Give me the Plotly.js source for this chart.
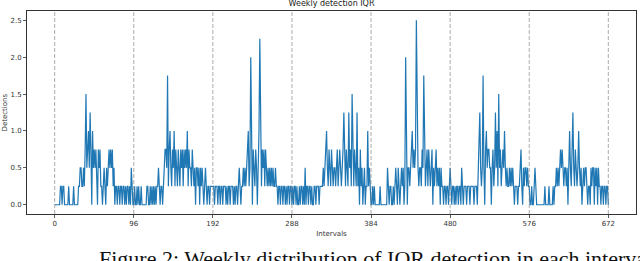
<!DOCTYPE html>
<html>
<head>
<meta charset="utf-8">
<script src="https://cdn.plot.ly/plotly-3.0.1.min.js"></script>
<style>
html,body{margin:0;padding:0;background:#fff;}
#chart{width:640px;height:261px;}
</style>
</head>
<body>
<div id="chart"></div>
<script>
// Weekly detection IQR values, one array per day (96 intervals each)
const day0 = [0,0,0,0,0,0,0,0.25,0.25,0,0.25,0.25,
  0,0,0,0,0,0.25,0,0,0,0,0,0.25,
  0,0,0,0,0,0.25,0.25,0.5,0.5,0.25,0.25,0.5,
  0.25,0.75,1.5,0.5,0.75,1,0.5,1.25,0.75,0,1,0.5,
  0.75,0.5,0.75,0.25,0,0.75,0.5,0.75,0.25,0.25,0,0.25,
  0.5,0.25,0,0.5,0.25,0.5,0.75,0.5,0.75,0.5,0.75,0.25,
  0.5,0,0.25,0.25,0,0.25,0.25,0,0.25,0.25,0,0.25,
  0.25,0,0.25,0,0.25,0.25,0,0.25,0,0.5,0.25,0];
const day1 = [0,0.25,0,0,0.25,0,0.25,0,0,0.25,0,0,
  0,0,0,0,0.25,0.25,0,0,0.25,0,0.25,0,
  0.25,0,0.25,0,0.25,0.25,0.5,0.25,0,0.25,0.25,0,
  0.25,0.5,0.75,0.75,0.5,1.75,0.25,0.75,1,0.5,0.25,0.75,
  0.5,1,0.25,0.75,0.5,0.25,0.75,0.5,0.25,0.75,0.5,0.75,
  0.25,0.75,0.5,0.75,0.5,1,0.25,0.75,0.5,0.5,0.25,0.75,
  0.5,0.25,0.5,0,0.5,0.5,0.25,0.5,0,0.5,0.25,0.5,
  0.25,0,0.25,0.5,0.25,0,0.25,0.25,0,0.25,0.25,0.25];
const day2 = [0.25,0.25,0,0.25,0.25,0.25,0,0.25,0.25,0,0.25,0.25,
  0,0.25,0.25,0.25,0,0.25,0,0.25,0.25,0,0.25,0.25,
  0.25,0,0.25,0,0.25,0.25,0,0.25,0.5,0.25,0,0.25,
  0.25,0.5,0.25,0.5,0.25,0.5,0.75,1,0.25,0.5,2,0.5,
  0,0.75,0.5,0.25,0.75,0.5,0,0.5,1,2.25,0.75,0.25,
  0.75,0.5,0.75,0.25,0.75,0.5,0.25,0.5,0.25,0.5,0.25,0.5,
  0.25,0.5,0.25,0.25,0.5,0.25,0.25,0,0.25,0.25,0,0.25,
  0.25,0,0.25,0.25,0,0.25,0,0.25,0.25,0,0.25,0.25];
const day3 = [0,0.25,0,0.25,0.25,0,0.25,0,0,0.25,0,0.25,
  0.25,0,0.25,0,0.5,0,0.25,0.25,0,0.25,0.25,0,
  0.25,0,0,0.25,0.25,0,0.25,0.25,0.25,0,0.25,0.25,
  0.25,0.25,0.5,0.25,0.5,0.75,1,0.5,0.25,0.75,0.5,0.25,
  0.75,0.5,0.25,0.5,0.5,0.25,0.5,0.75,0.25,0.5,0.75,0.5,
  0.25,0.5,0.75,1.25,0.5,0.25,0.75,0.5,0.25,1.25,0.5,0.75,
  0.25,1.5,0.5,0.25,0.75,0.5,0.25,1.25,0.25,0.5,0,0.75,
  0.25,0.5,0,0.25,0.5,0,0.25,0.25,1,0.25,0.5,0.25];
const day4 = [0,0,0.25,0,0.25,0,0,0,0,0,0,0.25,
  0,0,0,0,0,0,0,0,0.5,0.25,0,0.25,
  0.25,0,0,0.25,0,0.25,0.5,0.25,0,0.5,0.25,0,
  0.25,0.5,0.25,0.5,0,0.25,2,0.5,0,0.5,0.5,0.25,
  0.5,0.75,1,0.5,0.75,0.5,0.75,2.5,0.75,0.5,0.25,0.5,
  0.5,0.25,0.75,0.5,1.75,0.75,0.25,0.5,0.75,0.25,0.75,0.5,
  0.25,0.5,0.75,0,0.5,0.25,0.5,0.75,0.25,0.5,0.25,0.5,
  0,0.5,0.25,0.25,0,0.25,0.25,0,0.25,0.25,0,0.25];
const day5 = [0.5,0.25,0,0.25,0.25,0,0.25,0,0.25,0.25,0,0.25,
  0.25,0,0.5,0.25,0,0.25,0.25,0.25,0,0.25,0.25,0.25,
  0,0.25,0.25,0.25,0.25,0,0.25,0.25,0.25,0,0.5,1,
  1.25,0.5,0.25,0.5,1.75,0.5,0,0.75,1,0.5,0.75,0.75,
  0.5,0.5,0,0.5,0.75,0.25,0.5,1.25,0.5,1,0.25,1.5,
  0.5,0.75,0.25,0.5,0.75,0.5,1,0.5,0.25,0.5,0.25,0.25,
  0.5,0.25,0.5,0.25,0.5,0.25,0,0.25,0.25,0.25,0,0.25,
  0.25,0.5,0.75,0.25,0,0.5,0.25,0.5,0.5,0.25,0.5,0.25];
const day6 = [0.25,0,0,0.25,0,0,0.25,0.5,0.25,0,0,0,
  0,0,0,0,0,0,0,0.25,0,0,0,0,
  0.25,0,0,0,0,0.25,0,0.25,0.25,0.5,0.25,0.5,
  0.25,0.5,0.75,0.5,0.75,0.5,0.25,0.5,0.5,0.25,0.5,0,
  0.5,1,0.5,0.25,0.75,1.25,0.5,0.25,0.75,0.5,0.25,0.5,
  1,0.5,0.25,0.5,0,0.25,0.5,0.25,0.5,0.5,0.25,0,
  0.25,0.25,0,0.5,0.25,0.5,0.5,0,0.5,0.25,0.5,0,
  0.5,0.25,0.25,0,0.25,0.25,0,0.25,0.25,0,0.25,0.25];
const lastInterval = [0];

const tickVals = [0, 96, 192, 288, 384, 480, 576, 672];
const tickText = ['0', '96', '192', '288', '384', '480', '576', '672'];
const yTickVals = [0, 0.5, 1.0, 1.5, 2.0, 2.5];
const yTickText = ['0.0', '0.5', '1.0', '1.5', '2.0', '2.5'];

const detections = [].concat(day0, day1, day2, day3, day4, day5, day6, lastInterval);

const FONT = 'DejaVu Sans, Verdana, sans-serif';

const trace = {
  type: 'scatter',
  mode: 'lines',
  y: detections,
  x0: 0,
  dx: 1,
  line: {color: '#1f77b4', width: 1.2},
  hoverinfo: 'skip'
};

const shapes = tickVals.map(v => ({
  type: 'line', xref: 'x', yref: 'paper',
  x0: v, x1: v, y0: 0, y1: 1,
  line: {color: 'rgba(128,128,128,0.65)', width: 1, dash: '4px,2px'},
  layer: 'above'
}));

const axisCommon = {
  showgrid: false, zeroline: false,
  showline: true, mirror: true, linecolor: '#333', linewidth: 1,
  ticks: 'outside', ticklen: 3, tickwidth: 0.8, tickcolor: '#333',
  tickfont: {family: FONT, size: 7, color: '#333'},
  automargin: false
};

const layout = {
  width: 640, height: 261,
  margin: {l: 27, r: 4, t: 11, b: 47},
  paper_bgcolor: '#fff', plot_bgcolor: '#fff',
  showlegend: false,
  title: {
    text: 'Weekly detection IQR',
    font: {family: FONT, size: 8, color: '#222'},
    x: 0.5, xref: 'paper', xanchor: 'center',
    y: 1, yref: 'container', yanchor: 'top', pad: {t: 0}
  },
  xaxis: Object.assign({}, axisCommon, {
    range: [-33.6, 705.6],
    tickmode: 'array', tickvals: tickVals, ticktext: tickText,
    title: {text: 'Intervals', font: {family: FONT, size: 7, color: '#333'}, standoff: 3}
  }),
  yaxis: Object.assign({}, axisCommon, {
    range: [-0.125, 2.625],
    tickmode: 'array', tickvals: yTickVals, ticktext: yTickText,
    title: {text: ''}
  }),
  shapes: shapes,
  annotations: [
    {
      text: 'Detections', textangle: -90,
      xref: 'paper', yref: 'paper', x: 0, y: 0.5,
      xanchor: 'center', yanchor: 'middle', xshift: -23,
      showarrow: false,
      font: {family: FONT, size: 7, color: '#333'}
    },
    {
      text: 'Figure 2: Weekly distribution of IQR detection in each interval',
      xref: 'paper', yref: 'paper', x: 0, y: 0,
      xanchor: 'left', yanchor: 'top', xshift: 70, yshift: -30,
      showarrow: false,
      font: {family: 'Liberation Serif, Times New Roman, serif', size: 22, color: '#111'}
    }
  ]
};

Plotly.newPlot('chart', [trace], layout, {displayModeBar: false, staticPlot: true});
</script>
</body>
</html>
